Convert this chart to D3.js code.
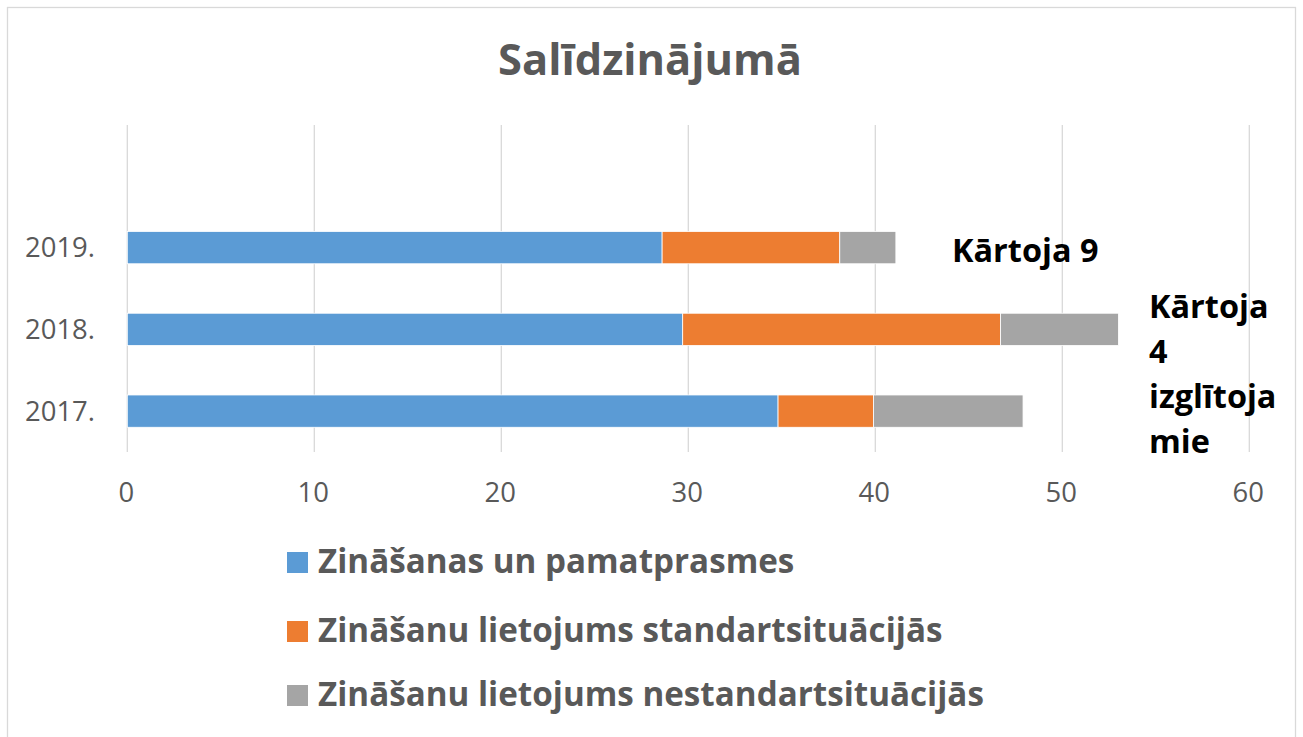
<!DOCTYPE html>
<html><head><meta charset="utf-8">
<script src="https://cdn.jsdelivr.net/npm/d3@7"></script>
<style>body{margin:0;background:#fff}svg{display:block}</style>
</head><body>
<svg id="c" width="1303" height="737"></svg>
<script>
const categories = ["2017.", "2018.", "2019.", ""];
const seriesNames = ["Zināšanas un pamatprasmes", "Zināšanu lietojums standartsituācijās", "Zināšanu lietojums nestandartsituācijās"];
const basics = [34.8, 29.7, 28.6, null];
const standard = [5.1, 17.0, 9.5, null];
const nonStandard = [8.0, 6.3, 3.0, null];
const xTicks = [0, 10, 20, 30, 40, 50, 60];
const title = "Salīdzinājumā";
const noteA = ["Kārtoja 9"];
const noteB = ["Kārtoja", "4", "izglītoja", "mie"];
const colors = ["#5b9bd5", "#ed7d31", "#a5a5a5"];

const svg = d3.select("#c");
const font = "'Open Sans', 'Noto Sans', sans-serif";

// size a font so sample strings take (in sum) a target width
function fitSize(strs, target, weight) {
  let w = 0;
  strs.forEach(str => {
    const t = svg.append("text").attr("font-family", font).attr("font-weight", weight).attr("font-size", 100).text(str);
    w += t.node().getComputedTextLength();
    t.remove();
  });
  return 100 * target / w;
}

svg.append("rect").attr("x", 7.5).attr("y", 7.5).attr("width", 1288).attr("height", 740)
  .attr("fill", "#fff").attr("stroke", "#d9d9d9").attr("stroke-width", 1.3);

const x = d3.scaleLinear().domain([0, 60]).range([127.3, 1249.3]);
const y = d3.scaleBand().domain(categories.slice().reverse()).range([125, 452]).paddingInner(0.605).paddingOuter(0.3025);

// gridlines
svg.append("g").selectAll("line").data(xTicks).join("line")
  .attr("x1", d => x(d)).attr("x2", d => x(d)).attr("y1", 125).attr("y2", 452)
  .attr("stroke", "#d9d9d9").attr("stroke-width", 1.3);

// stacked bars
const rows = categories.map((c, i) => ({cat: c, vals: [basics[i], standard[i], nonStandard[i]]}));
const g = svg.append("g");
rows.forEach(r => {
  let acc = 0;
  r.vals.forEach((v, k) => {
    if (v == null) return;
    g.append("rect").attr("x", x(acc)).attr("width", x(acc + v) - x(acc))
      .attr("y", y(r.cat)).attr("height", y.bandwidth())
      .attr("fill", colors[k]).attr("stroke", "#fff").attr("stroke-width", 0.8);
    acc += v;
  });
});

const axisSize = fitSize(["2019."], 70, "normal");

// y axis labels
const yAxis = d3.axisLeft(y).tickSize(0).tickPadding(0);
const ya = svg.append("g").attr("transform", "translate(95,0)").call(yAxis);
ya.select(".domain").remove();
ya.selectAll("text").attr("font-family", font).attr("font-size", axisSize).attr("fill", "#595959").attr("dy", 9.5);

// x axis labels
const xAxis = d3.axisBottom(x).tickValues(xTicks).tickSize(0).tickPadding(0);
const xa = svg.append("g").attr("transform", "translate(-1.5,502)").call(xAxis);
xa.select(".domain").remove();
xa.selectAll("text").attr("font-family", font).attr("font-size", axisSize).attr("fill", "#595959").attr("dy", 0);

// title
svg.append("text").attr("x", 650).attr("y", 75).attr("text-anchor", "middle")
  .attr("font-family", font).attr("font-weight", "bold").attr("font-size", fitSize([title], 304, "bold")).attr("fill", "#595959")
  .text(title);

// annotations
const noteSize = fitSize(["Kārtoja 9", "izglītoja"], 156 + 118, "bold");
noteA.forEach((t, i) => svg.append("text").attr("x", 952).attr("y", 262 + i * 45)
  .attr("font-family", font).attr("font-weight", "bold").attr("font-size", noteSize).attr("fill", "#000").text(t));
noteB.forEach((t, i) => svg.append("text").attr("x", 1149).attr("y", 318 + i * 45)
  .attr("font-family", font).attr("font-weight", "bold").attr("font-size", noteSize).attr("fill", "#000").text(t));

// legend
const legSize = fitSize([seriesNames[0], seriesNames[2]], 436 + 707, "bold");
const ly = [573, 642, 706];
seriesNames.forEach((s, i) => {
  svg.append("rect").attr("x", 287).attr("y", ly[i] - 21).attr("width", 21).attr("height", 21).attr("fill", colors[i]);
  svg.append("text").attr("x", 318).attr("y", ly[i])
    .attr("font-family", font).attr("font-weight", "bold").attr("font-size", legSize).attr("fill", "#595959").text(s);
});
</script>
</body></html>
